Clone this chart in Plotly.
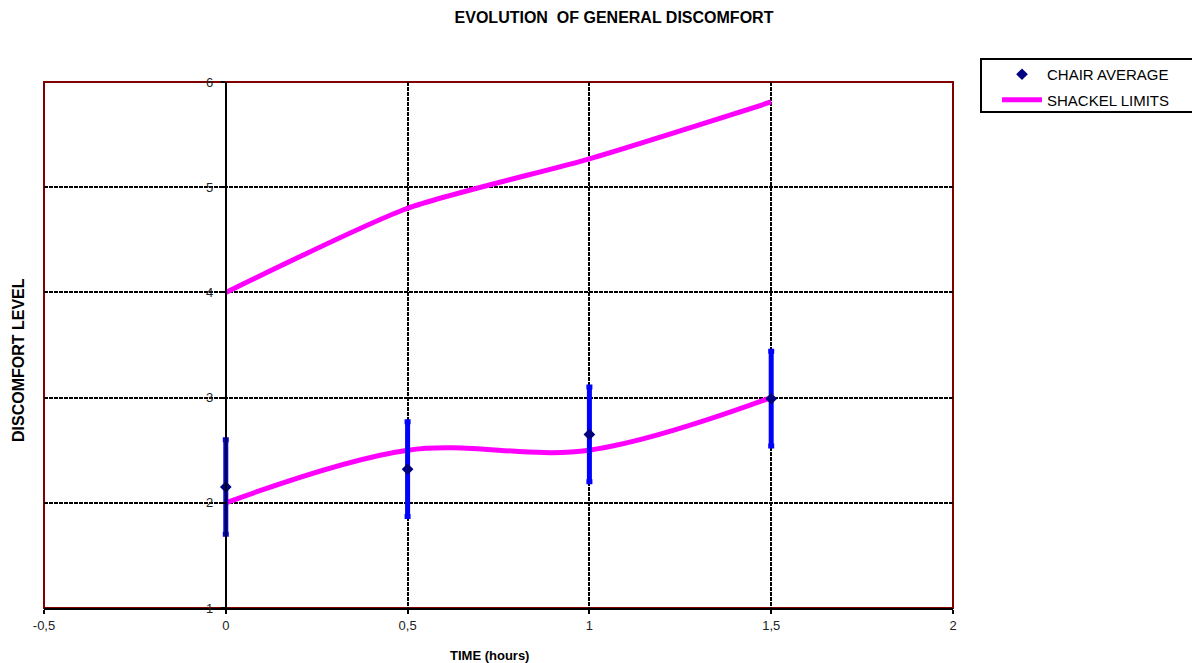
import plotly.graph_objects as go

# ---- data ----
time_hours = [0, 0.5, 1, 1.5]
chair_average = [2.15, 2.32, 2.65, 2.99]
chair_error = [0.45, 0.45, 0.45, 0.45]
shackel_lower = [2.0, 2.5, 2.5, 3.0]
shackel_upper = [4.0, 4.8, 5.27, 5.81]

x_tick_vals = [-0.5, 0, 0.5, 1, 1.5, 2]
x_tick_text = ["-0,5", "0", "0,5", "1", "1,5", "2"]
y_tick_vals = [1, 2, 3, 4, 5, 6]
y_tick_text = ["1", "2", "3", "4", "5", "6"]

FONT = "Arial, Liberation Sans, sans-serif"
MAGENTA = "#FF00FF"

fig = go.Figure()

fig.add_trace(go.Scatter(
    x=time_hours, y=shackel_lower, mode="lines", name="SHACKEL LIMITS",
    line=dict(color=MAGENTA, width=5, shape="spline", smoothing=1),
    legendgroup="shackel", legendrank=2, showlegend=True,
))
fig.add_trace(go.Scatter(
    x=time_hours, y=shackel_upper, mode="lines", name="SHACKEL LIMITS",
    line=dict(color=MAGENTA, width=5, shape="spline", smoothing=0.6),
    legendgroup="shackel", showlegend=False,
))
fig.add_trace(go.Scatter(
    x=time_hours, y=chair_average, mode="markers", name="CHAIR AVERAGE",
    marker=dict(symbol="diamond", color="#000080", size=9),
    error_y=dict(type="data", array=chair_error, visible=True,
                 color="#0000FF", thickness=5, width=3),
    legendgroup="chair", legendrank=1,
))

# page body has an 8px margin: figure px = reference px - 8
OFF = 8
W, H = 1200 - OFF, 663 - OFF
px_l, px_r, px_t, px_b = 44 - OFF, 953 - OFF, 82 - OFF, 608 - OFF
PW, PH = px_r - px_l, px_b - px_t
L, R, T, B = px_l, W - px_r, px_t, H - px_b
xr = [-0.5, 2]
y_axis_pos = (0 - xr[0]) / (xr[1] - xr[0])


def paper_x(px):
    return (px - OFF - px_l) / PW


def paper_y(py):
    return (px_b - (py - OFF)) / PH


grid = dict(showgrid=True, gridcolor="black", gridwidth=2.2, griddash="4px,1px")

fig.update_layout(
    width=W, height=H,
    margin=dict(l=L, r=R, t=T, b=B),
    paper_bgcolor="white", plot_bgcolor="white",
    font=dict(family=FONT, size=13, color="#222222"),
    showlegend=True,
    legend=dict(
        x=paper_x(997), y=paper_y(58),
        xanchor="left", yanchor="top",
        borderwidth=0, bgcolor="rgba(0,0,0,0)",
        font=dict(family=FONT, size=15, color="black"),
        tracegroupgap=3, itemwidth=40,
    ),
    xaxis=dict(
        range=xr, tickvals=x_tick_vals, ticktext=x_tick_text,
        showline=True, linecolor="black", linewidth=2,
        ticks="outside", ticklen=4, tickcolor="black", tickwidth=2,
        tickfont=dict(size=13, color="#222222"),
        zeroline=False, **grid,
    ),
    yaxis=dict(
        range=[1, 6], tickvals=y_tick_vals, ticktext=y_tick_text,
        anchor="free", position=y_axis_pos,
        showline=True, linecolor="black", linewidth=2,
        ticks="outside", ticklen=4, tickcolor="black", tickwidth=2,
        ticklabelstandoff=5,
        tickfont=dict(size=13, color="#222222"),
        zeroline=False, **grid,
    ),
    title=dict(
        text="<b>EVOLUTION  OF GENERAL DISCOMFORT</b>",
        x=(614 - OFF) / W, y=1 - (17 - OFF) / H, xanchor="center", yanchor="middle",
        xref="container", yref="container",
        font=dict(family=FONT, size=16, color="black"),
    ),
)

# plot border (dark red)
fig.add_shape(type="rect", xref="x domain", yref="y domain",
              x0=0, x1=1, y0=0, y1=1,
              line=dict(color="#800000", width=2), layer="below")

# legend frame
fig.add_shape(type="rect", xref="paper", yref="paper",
              x0=paper_x(981), x1=paper_x(1197), y0=paper_y(59), y1=paper_y(112),
              line=dict(color="black", width=2), fillcolor="rgba(0,0,0,0)",
              layer="below")

fig.add_annotation(text="<b>TIME (hours)</b>", xref="paper", yref="paper",
                   x=paper_x(489), y=paper_y(655),
                   showarrow=False, xanchor="center", yanchor="middle",
                   font=dict(family=FONT, size=13, color="black"))
fig.add_annotation(text="<b>DISCOMFORT LEVEL</b>", xref="paper", yref="paper",
                   x=paper_x(18), y=paper_y(360),
                   textangle=-90, showarrow=False, xanchor="center", yanchor="middle",
                   font=dict(family=FONT, size=16, color="black"))

fig.write_html("out.html")
